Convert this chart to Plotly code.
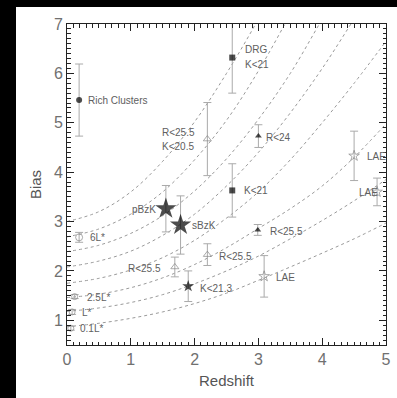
import plotly.graph_objects as go

# ---------------- data ----------------
# model curves (bias vs redshift)
z_grid = [0.0, 0.5, 1.0, 1.5, 2.0, 2.5, 3.0, 3.5, 4.0, 4.5, 5.0]
curve_1 = [0.87, 0.94, 1.04, 1.17, 1.34, 1.55, 1.81, 2.08, 2.36, 2.65, 2.97]
curve_2 = [1.18, 1.25, 1.36, 1.52, 1.74, 2.00, 2.30, 2.65, 3.02, 3.42, 3.85]
curve_3 = [1.46, 1.53, 1.66, 1.86, 2.13, 2.47, 2.86, 3.26, 3.72, 4.30, 4.98]
curve_4 = [1.75, 1.85, 2.02, 2.27, 2.62, 3.07, 3.60, 4.25, 5.00, 5.80, 6.65]
curve_5 = [2.08, 2.20, 2.40, 2.72, 3.15, 3.72, 4.40, 5.20, 6.10, 7.10, 8.10]
curve_6 = [2.39, 2.52, 2.76, 3.12, 3.62, 4.27, 5.07, 6.00, 7.10, 8.20, 9.30]
curve_7 = [2.69, 2.85, 3.15, 3.60, 4.25, 5.05, 6.05, 7.20, 8.40, 9.60, 10.8]
curve_8 = [3.00, 3.20, 3.60, 4.22, 5.02, 6.00, 7.10, 8.30, 9.50, 10.7, 11.9]
curves = [curve_1, curve_2, curve_3, curve_4, curve_5, curve_6, curve_7, curve_8]

# measurements: filled (black) samples
filled_names = ["Rich Clusters", "DRG K<21", "K<21", "R<24", "R<25.5", "K<21.3", "pBzK", "sBzK"]
filled_z =     [0.19, 2.59, 2.59, 3.00, 2.99, 1.90, 1.55, 1.78]
filled_b =     [5.46, 6.32, 3.63, 4.73, 2.83, 1.69, 3.26, 2.93]
filled_err =   [0.73, 0.72, 0.54, 0.23, 0.11, 0.31, 0.47, 0.59]
filled_sym =   ["circle", "square", "square", "triangle-up", "triangle-up", "star", "star", "star"]
filled_size =  [6, 6, 6, 6, 6, 9, 16, 16]

# open (grey) samples
open_names = ["R<25.5 K<20.5", "R<25.5", "R<25.5", "LAE", "LAE", "LAE", "6L*", "2.5L*", "L*", "0.1L*"]
open_z =     [2.20, 2.20, 1.69, 4.50, 4.86, 3.09, 0.19, 0.12, 0.08, 0.06]
open_b =     [4.67, 2.33, 2.08, 4.33, 3.60, 1.89, 2.68, 1.48, 1.17, 0.84]
open_err =   [0.74, 0.22, 0.20, 0.50, 0.28, 0.42, 0.10, 0.04, 0.05, 0.04]
open_sym =   ["triangle-up-open", "triangle-up-open", "triangle-up-open", "star-open", "star-open",
              "star-open", "circle-open", "circle-open", "circle-open", "circle-open"]
open_size =  [7, 7, 7, 8, 8, 8, 7, 6, 6, 6]

# text labels: (text, x, y, anchor)
labels = [
    ("Rich Clusters", 0.30, 5.46, "left"),
    ("DRG", 2.76, 6.48, "left"),
    ("K<21", 2.76, 6.18, "left"),
    ("R<25.5", 1.46, 4.80, "left"),
    ("K<20.5", 1.46, 4.51, "left"),
    ("R<24", 3.09, 4.71, "left"),
    ("K<21", 2.74, 3.63, "left"),
    ("LAE", 4.67, 4.31, "left"),
    ("LAE", 4.55, 3.59, "left"),
    ("R<25.5", 3.15, 2.79, "left"),
    ("R<25.5", 2.35, 2.29, "left"),
    ("LAE", 3.24, 1.86, "left"),
    ("K<21.3", 2.05, 1.64, "left"),
    ("R<25.5", 1.50, 2.04, "right"),
    ("pBzK", 1.43, 3.25, "right"),
    ("sBzK", 1.93, 2.91, "left"),
    ("6L*", 0.33, 2.67, "left"),
    ("2.5L*", 0.28, 1.46, "left"),
    ("L*", 0.20, 1.16, "left"),
    ("0.1L*", 0.17, 0.84, "left"),
]

# ---------------- figure ----------------
GREY_TXT = "#606060"
ERR_COL = "#aaaaaa"
FONT = "Liberation Sans"

fig = go.Figure()

for c in curves:
    fig.add_trace(go.Scatter(x=z_grid, y=c, mode="lines",
                             line=dict(color="#9a9a9a", width=1, dash="dot", shape="spline"),
                             hoverinfo="skip", showlegend=False))

fig.add_trace(go.Scatter(
    x=open_z, y=open_b, mode="markers", text=open_names,
    error_y=dict(type="data", array=open_err, color=ERR_COL, thickness=1, width=4),
    marker=dict(symbol=open_sym, size=open_size, color="#888888", line=dict(width=1, color="#888888")),
    showlegend=False))

fig.add_trace(go.Scatter(
    x=filled_z, y=filled_b, mode="markers", text=filled_names,
    error_y=dict(type="data", array=filled_err, color=ERR_COL, thickness=1, width=4),
    marker=dict(symbol=filled_sym, size=filled_size, color="black", line=dict(width=0)),
    showlegend=False))

for txt, x, y, anc in labels:
    fig.add_annotation(x=x, y=y, text=txt.replace("<", "&lt;"), showarrow=False,
                       xanchor=anc, yanchor="middle",
                       font=dict(family=FONT, size=10, color=GREY_TXT))

# black border strips of the original scan (left and top)
L, R, T, B = 67, 11, 24, 53
W, H = 397, 398
pw, ph = W - L - R, H - T - B
def px2paper_x(p):
    return (p - L) / pw
def py2paper_y(p):
    return 1 - (p - T) / ph
fig.add_shape(type="rect", xref="paper", yref="paper",
              x0=px2paper_x(0), x1=px2paper_x(16), y0=py2paper_y(H), y1=py2paper_y(0),
              fillcolor="black", line=dict(width=0), layer="above")
fig.add_shape(type="rect", xref="paper", yref="paper",
              x0=px2paper_x(0), x1=px2paper_x(W), y0=py2paper_y(7), y1=py2paper_y(0),
              fillcolor="black", line=dict(width=0), layer="above")

axis_common = dict(
    showgrid=False, zeroline=False, showline=True, linecolor="#222222", linewidth=1,
    mirror="ticks", ticks="inside", ticklen=7, tickcolor="#222222", tickwidth=1,
    automargin=False,
    tickfont=dict(family=FONT, size=16, color="#707070"),
    minor=dict(ticks="inside", ticklen=3.5, tickcolor="#222222", dtick=0.1, showgrid=False),
)

fig.update_layout(
    width=W, height=H, autosize=False,
    margin=dict(l=L, r=R, t=T, b=B, autoexpand=False),
    paper_bgcolor="white", plot_bgcolor="white",
    xaxis=dict(range=[0, 5], dtick=1, tick0=0,
               title=dict(text="Redshift", font=dict(family=FONT, size=15, color="#555555"), standoff=8),
               **axis_common),
    yaxis=dict(range=[0.5, 7], dtick=1, tick0=0,
               title=dict(text="Bias", font=dict(family=FONT, size=15, color="#555555"), standoff=8),
               **axis_common),
)

fig.write_html("out.html",
               config={"displayModeBar": False, "responsive": False},
               post_script="document.body.style.margin='0';document.body.style.overflow='hidden';")
